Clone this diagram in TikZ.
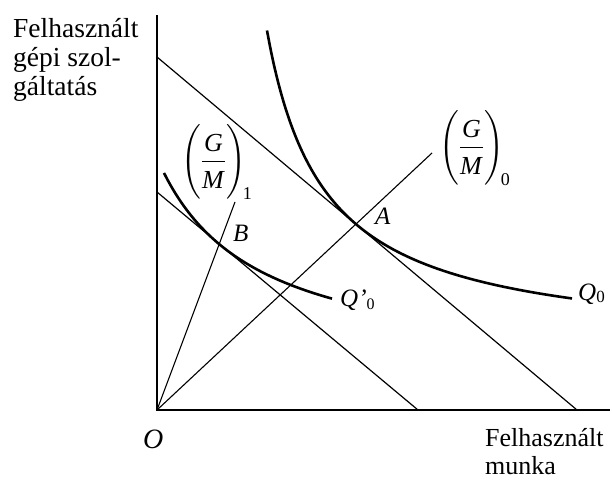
\documentclass[tikz,border=0pt]{standalone}
\usepackage{amsmath}
\usepackage{fontspec}
\setmainfont{Liberation Serif}
\newcommand{\gmfrac}[1]{$\left(\rule[-30pt]{0pt}{72pt}\dfrac{\textit{G}}{\raisebox{-3pt}{\textit{M}}}\right)_{\!\mbox{\fontsize{18}{18}\selectfont #1}}$}
\begin{document}
\begin{tikzpicture}[x=1pt,y=1pt,
  axis/.style={line width=2.6pt, line join=miter},
  budget/.style={line width=1.2pt},
  ray/.style={line width=1.1pt},
  isoq/.style={line width=2.6pt},
  axlbl/.style={inner sep=0pt, align=left},
  ptlbl/.style={inner sep=0pt, font=\fontsize{25}{28}\selectfont\itshape},
  frac/.style={inner sep=0pt, font=\fontsize{26}{28}\selectfont}]
\useasboundingbox (-157,-69) rectangle (455,410);
% axes
\coordinate (O) at (0,0);
\coordinate (ytop) at (0,395);
\coordinate (xend) at (453,0);
\draw[axis] (ytop) -- (O) -- (xend);
% budget lines
\coordinate (b1y) at (0,353);
\coordinate (b1x) at (420,0);
\coordinate (b2y) at (0,218);
\coordinate (b2x) at (261,0);
\draw[budget] (b1y) -- (b1x);
\draw[budget] (b2y) -- (b2x);
% rays
\coordinate (r0) at (275,257);
\coordinate (r1) at (78,208);
\draw[ray] (O) -- (r0);
\draw[ray] (O) -- (r1);
% isoquants
\draw[isoq] plot[domain=110:415, samples=90, smooth] (\x, {61.2 + 182.37/((\x-52.7)/100)});
\draw[isoq] plot[domain=7:175, samples=60, smooth] (\x, {36.1 + 202.16/((\x+93.6)/100)});
% labels
\node[axlbl, anchor=north west, font=\fontsize{27.5}{29}\selectfont] (ylab) at (-144,392) {Felhasznált\\gépi szol-\\gáltatás};
\node[axlbl, anchor=north west, font=\fontsize{26}{28}\selectfont] (xlab) at (328,-18) {Felhasznált\\munka};
\node[ptlbl, anchor=base west, font=\fontsize{28}{30}\selectfont\itshape] (Olab) at (-14,-38) {O};
\node[ptlbl, anchor=base west] (Alab) at (218,185) {A};
\node[ptlbl, anchor=base west] (Blab) at (76,168) {B};
\node[ptlbl, anchor=base west] (Q0lab) at (421,110) {Q\raisebox{-2pt}{\upshape\fontsize{17}{20}\selectfont 0}};
\node[ptlbl, anchor=base west] (Q1lab) at (183,103) {Q’\raisebox{-2pt}{\upshape\fontsize{16}{18}\selectfont 0}};
\node[frac, anchor=base west] (gm1) at (24,242) {\gmfrac{1}};
\node[frac, anchor=base west] (gm0) at (282,256) {\gmfrac{0}};
\end{tikzpicture}
\end{document}
